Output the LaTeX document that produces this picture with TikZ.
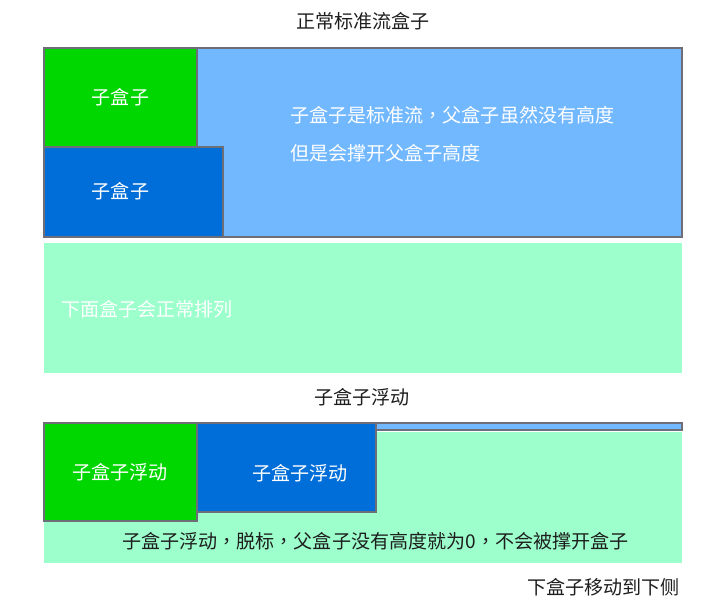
\documentclass[tikz,border=0pt]{standalone}
\usepackage{fontspec}
\setmainfont{Noto Sans CJK SC}
\newfontfamily\tcfont{Noto Sans CJK TC}
\newcommand{\cm}{{\tcfont ，}}
\definecolor{cgreen}{HTML}{00D700}
\definecolor{cdblue}{HTML}{006ED8}
\definecolor{clblue}{HTML}{72B8FF}
\definecolor{cmint}{HTML}{9CFFCC}
\definecolor{cborder}{HTML}{6E6E78}
\definecolor{ctext}{HTML}{1E1E1E}
\begin{document}
\begin{tikzpicture}[x=0.75pt,y=-0.75pt,
  box/.style={draw=cborder,line width=0.9pt},
  wtxt/.style={text=white,inner sep=0pt,font=\fontsize{14.3pt}{17pt}\selectfont},
  btxt/.style={text=ctext,inner sep=0pt,font=\fontsize{14.3pt}{17pt}\selectfont}]
\useasboundingbox[fill=white] (0,0) rectangle (716,600);
% top section
\node[btxt] (t1) at (363,21) {正常标准流盒子};
\draw[box,fill=clblue] (44,48) rectangle (682,237);
\draw[box,fill=cgreen] (44,48) rectangle (197,147);
\draw[box,fill=cdblue] (44,147) rectangle (223,237);
\node[wtxt] (g1) at (120.5,97) {子盒子};
\node[wtxt] (b1) at (120.5,191) {子盒子};
\node[wtxt,anchor=west] (p1) at (290,115) {子盒子是标准流\cm 父盒子虽然没有高度};
\node[wtxt,anchor=west] (p2) at (290,153) {但是会撑开父盒子高度};
\fill[cmint] (44,243) rectangle (682,373);
\node[wtxt,anchor=west] (m1) at (61,309) {下面盒子会正常排列};
% bottom section
\node[btxt] (t2) at (362,397) {子盒子浮动};
\fill[cmint] (44,432) rectangle (682,563);
\draw[box,fill=clblue] (44,423) rectangle (682,430);
\draw[box,fill=cgreen] (44,423) rectangle (197,521);
\draw[box,fill=cdblue] (197,423) rectangle (376,512);
\node[wtxt] (g2) at (120,472) {子盒子浮动};
\node[wtxt] (b2) at (300,473) {子盒子浮动};
\node[btxt,anchor=west] (m2) at (122,541) {子盒子浮动\cm 脱标\cm 父盒子没有高度就为0\cm 不会被撑开盒子};
\node[btxt,anchor=west] (t3) at (527,587) {下盒子移动到下侧};
\end{tikzpicture}
\end{document}
